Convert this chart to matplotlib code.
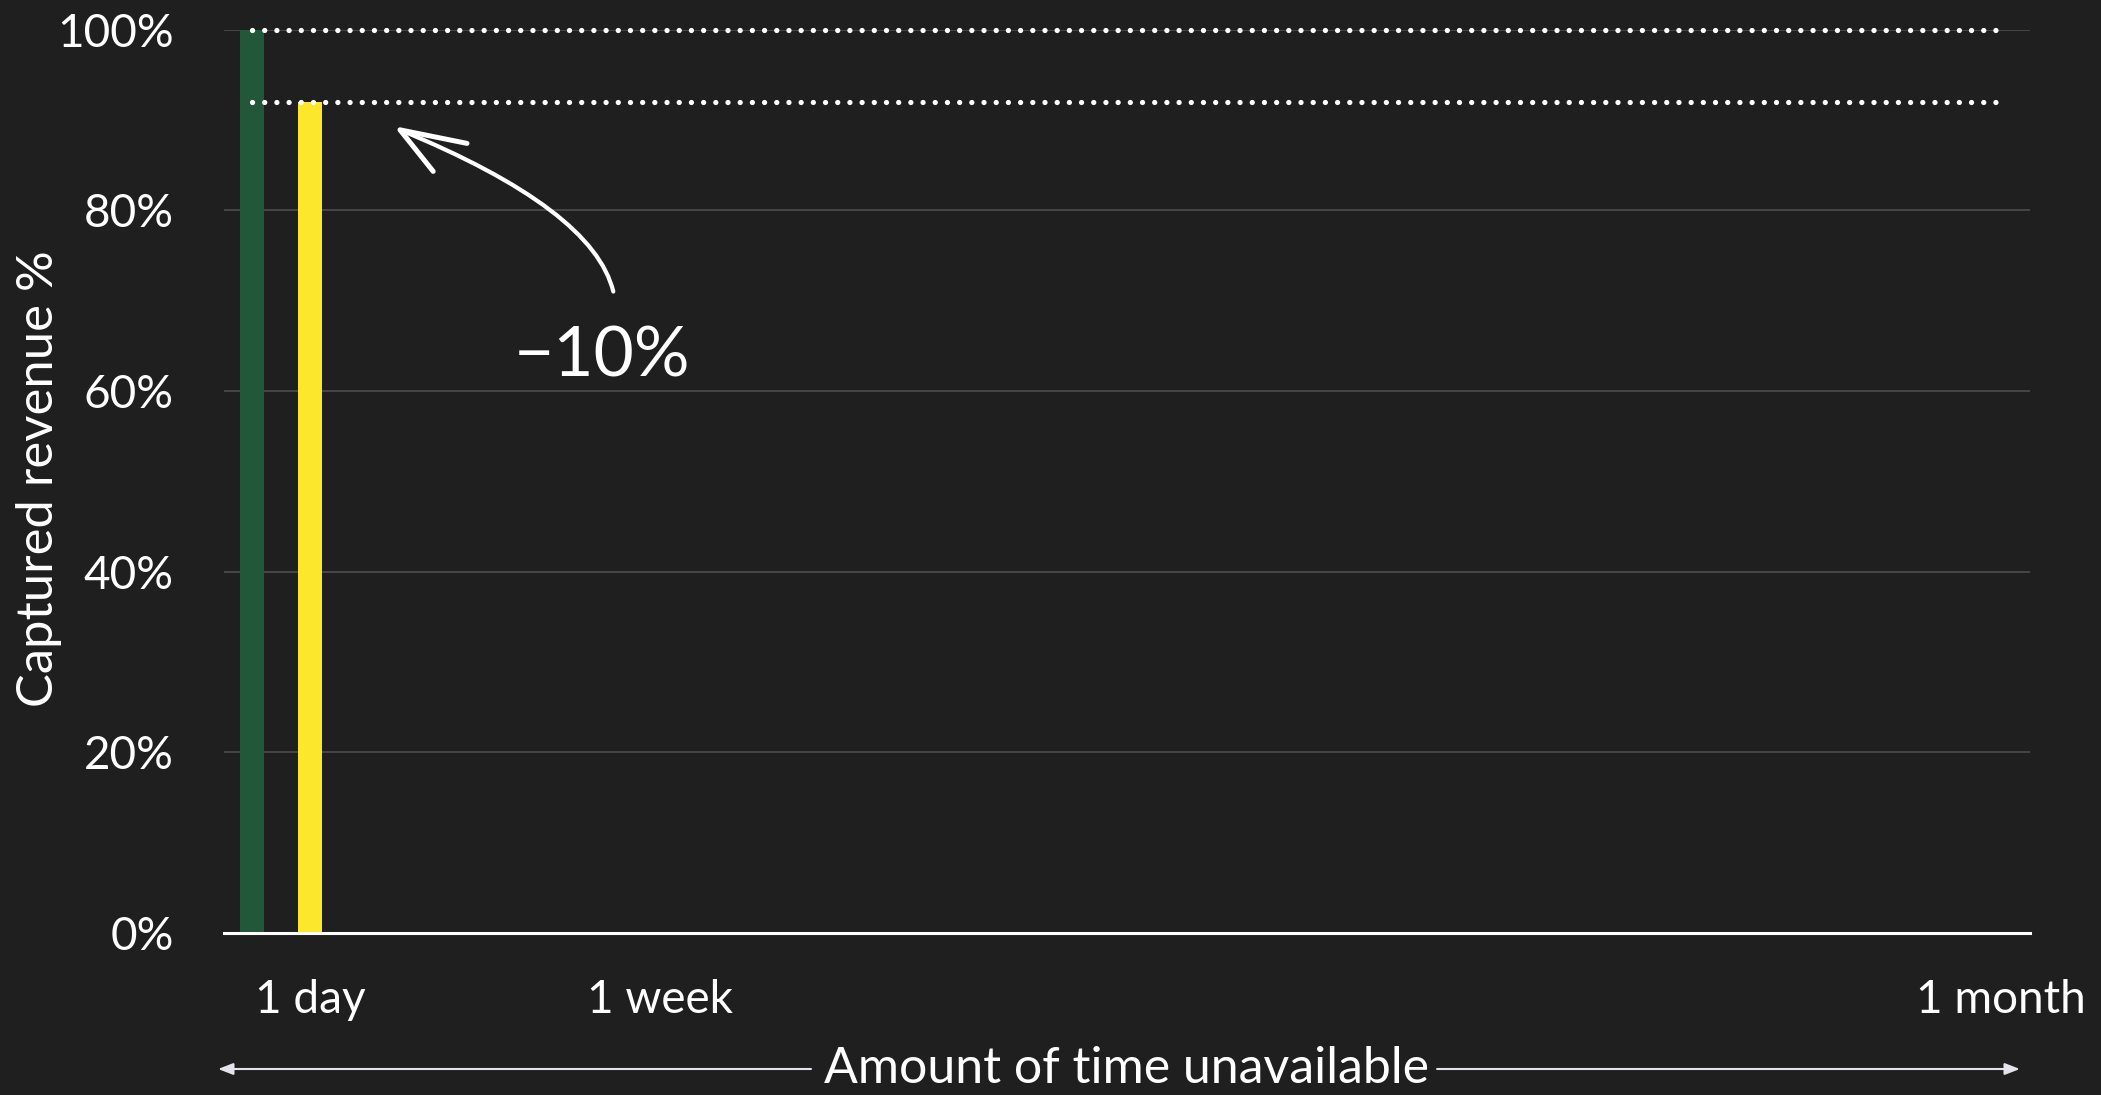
import matplotlib
matplotlib.use("Agg")
import matplotlib.pyplot as plt
from matplotlib.path import Path
from matplotlib.patches import PathPatch

# ---- data ----
days = [0, 1]                    # bar positions (days unavailable)
captured = [100, 92]             # captured revenue %
bar_colors = ["#22573A", "#FDE72B"]
xtick_pos = [1, 7, 30]
xtick_labels = ["1 day", "1 week", "1 month"]
ytick_pos = [0, 20, 40, 60, 80, 100]
ytick_labels = ["0%", "20%", "40%", "60%", "80%", "100%"]
ref_levels = [100, 92]
delta_label = "\u221210%"

BG = "#1F1F1F"
FONT = ["Lato", "DejaVu Sans"]
plt.rcParams['font.family'] = FONT

fig = plt.figure(figsize=(21.01, 10.95), dpi=100, facecolor=BG)
ax = fig.add_axes([0.1066, 0.148, 0.966 - 0.1066, 0.973 - 0.148])
ax.set_facecolor(BG)

ax.bar(days, captured, width=0.42, color=bar_colors, zorder=2)

ax.set_xlim(-0.48, 30.5)
ax.set_ylim(0, 100)

# gridlines
for y in ytick_pos[1:]:
    ax.axhline(y, color="#4A4A4A", lw=1.3, zorder=1)

# dotted reference lines
for lvl in ref_levels:
    ax.plot([0, 30], [lvl, lvl], color="white", lw=3.8, linestyle=(0, (0.01, 2.3)),
            dash_capstyle="round", zorder=3, clip_on=False)

ax.set_xticks(xtick_pos)
ax.set_xticklabels(xtick_labels)
ax.set_yticks(ytick_pos)
ax.set_yticklabels(ytick_labels)
ax.tick_params(axis="both", length=0, colors="white", labelsize=33)
ax.tick_params(axis="y", pad=36)
ax.tick_params(axis="x", pad=33)

for s in ["top", "right", "left"]:
    ax.spines[s].set_visible(False)
ax.spines["bottom"].set_color("white")
ax.spines["bottom"].set_linewidth(2.2)
ax.spines["bottom"].set_zorder(4)

fig.text(39 / 2101, 1 - 479 / 1095, "Captured revenue %", color="white", fontsize=36.5,
         rotation=90, ha="center", va="center")

# curved annotation arrow
tail = (6.20, 71.0)
ctrl = (5.86, 80.1)
tip = (2.54, 88.9)
curve = Path([tail, ctrl, tip], [Path.MOVETO, Path.CURVE3, Path.CURVE3])
ax.add_patch(PathPatch(curve, fill=False, ec="white", lw=3.0, capstyle="round", zorder=5))
head = Path([(3.69, 87.4), tip, (3.11, 84.3)], [Path.MOVETO, Path.LINETO, Path.LINETO])
ax.add_patch(PathPatch(head, fill=False, ec="white", lw=3.6, capstyle="round",
                       joinstyle="round", zorder=5))
ax.text(6.01, 63.7, delta_label, color="white", fontsize=50, ha="center", va="center")

# x-axis title with double arrow
yfig = 1 - 1069 / 1095
fig.text(0.536, yfig, "Amount of time unavailable", color="white", fontsize=36,
         ha="center", va="center")
arrow_col = "#E4E4EE"
ax.annotate("", xy=(0.1038, yfig), xytext=(0.386, yfig), xycoords="figure fraction",
            textcoords="figure fraction",
            arrowprops=dict(arrowstyle="-|>,head_length=0.9,head_width=0.35", color=arrow_col, lw=1.5,
                            shrinkA=0, shrinkB=0))
ax.annotate("", xy=(0.9614, yfig), xytext=(0.684, yfig), xycoords="figure fraction",
            textcoords="figure fraction",
            arrowprops=dict(arrowstyle="-|>,head_length=0.9,head_width=0.35", color=arrow_col, lw=1.5,
                            shrinkA=0, shrinkB=0))

fig.savefig("out.png", dpi=100, facecolor=BG)
